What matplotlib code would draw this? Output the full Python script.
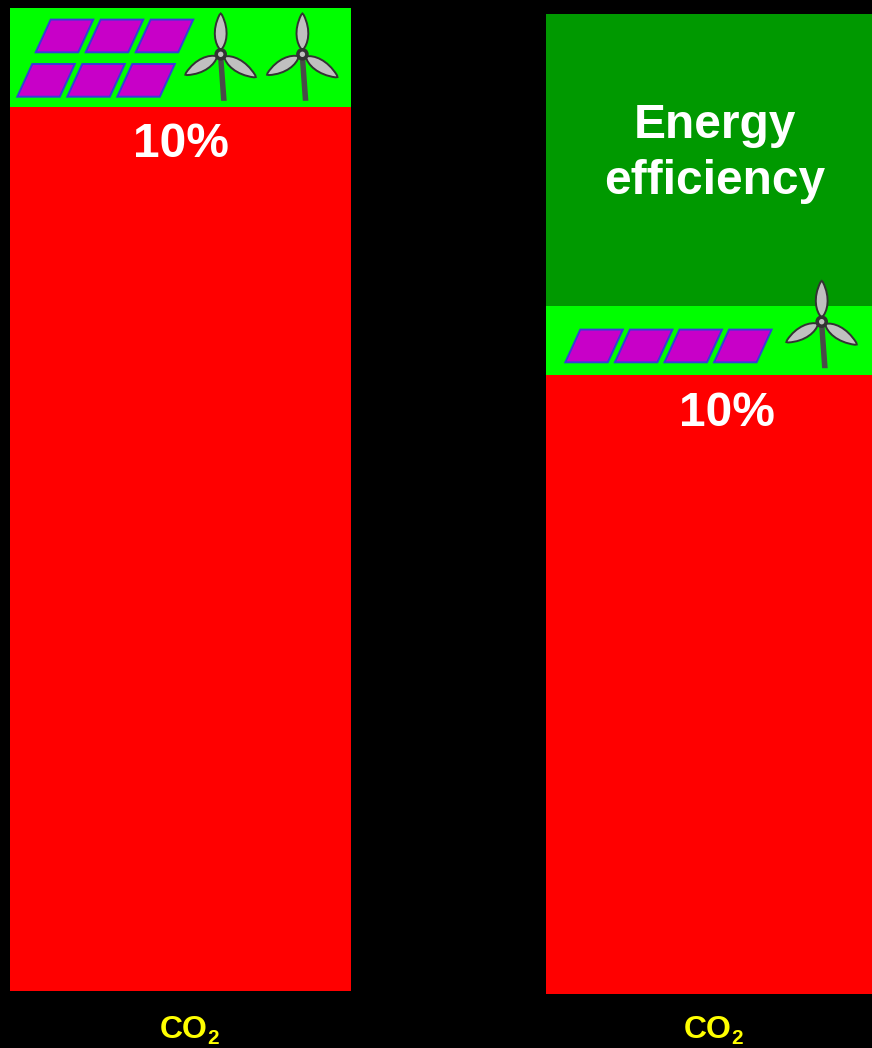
import matplotlib
matplotlib.use("Agg")
import matplotlib.pyplot as plt
import numpy as np
from matplotlib.patches import Circle, PathPatch, Polygon
from matplotlib.path import Path

# stacked shares, percent
before_labels = ["Fossil", "Renewables"]
before_values = [90, 10]
before_colors = ["#ff0000", "#00ff00"]

after_labels = ["Fossil", "Renewables", "Energy efficiency"]
after_values = [63, 7, 29.7]
after_colors = ["#ff0000", "#00ff00", "#009900"]

W, H = 872, 1048

plt.rcParams["font.family"] = ["Liberation Sans", "DejaVu Sans"]
plt.rcParams["mathtext.fontset"] = "custom"
plt.rcParams["mathtext.bf"] = "Liberation Sans:bold"

fig = plt.figure(figsize=(W / 100, H / 100), dpi=100, facecolor="black")


def bar_axes(x0, x1, top, bottom):
    ax = fig.add_axes([x0 / W, 1 - bottom / H, (x1 - x0) / W, (bottom - top) / H])
    ax.axis("off")
    return ax


def stack(ax, values, colors):
    base = 0
    for v, c in zip(values, colors):
        ax.bar(0, v, width=1, bottom=base, color=c, linewidth=0)
        base += v
    ax.set_xlim(-0.5, 0.5)
    ax.set_ylim(0, base)


stack(bar_axes(10, 351, 8.4, 991), before_values, before_colors)
stack(bar_axes(546, 872, 14, 994), after_values, after_colors)

# overlay in pixel coordinates for the icons and text
ov = fig.add_axes([0, 0, 1, 1], facecolor="none")
ov.set_xlim(0, W)
ov.set_ylim(H, 0)
ov.axis("off")


def panel(ax, x, y):
    # x, y is the lower left corner
    pts = [(x, y), (x + 15, y - 32.7), (x + 57.5, y - 32.7), (x + 42.5, y)]
    ax.add_patch(Polygon(pts, closed=True, facecolor="#c800c8", edgecolor="#3a3ad8",
                         linewidth=1.4, joinstyle="miter"))


def blade(ax, hx, hy, angle, length):
    # outline of a blade pointing up, then turned around the hub
    pts = np.array([
        [0, -4], [-6, -10], [-9, -24], [-1.2, -length + 0.5],
        [0, -length - 0.8], [1.2, -length + 0.5],
        [9, -24], [6, -10], [0, -4], [0, -4],
    ], dtype=float)
    a = np.radians(angle)
    rot = np.array([[np.cos(a), -np.sin(a)], [np.sin(a), np.cos(a)]])
    pts = pts @ rot.T + [hx, hy]
    codes = [Path.MOVETO, Path.CURVE4, Path.CURVE4, Path.CURVE4,
             Path.LINETO, Path.LINETO,
             Path.CURVE4, Path.CURVE4, Path.CURVE4, Path.CLOSEPOLY]
    ax.add_patch(PathPatch(Path(pts, codes), facecolor="#c0c0c0", edgecolor="#333333",
                           linewidth=1.4, zorder=3))


def turbine(ax, hx, hy):
    tower = [(hx - 2.6, hy + 4), (hx + 2.8, hy + 4), (hx + 6, hy + 46.5), (hx + 0.4, hy + 46.5)]
    ax.add_patch(Polygon(tower, closed=True, facecolor="#4a4a4a", edgecolor="none", zorder=2))
    blade(ax, hx, hy, 0, 40)
    blade(ax, hx, hy, -120, 40)
    blade(ax, hx, hy, 123, 41)
    ax.add_patch(Circle((hx, hy), 6.3, facecolor="#333333", edgecolor="none", zorder=4))
    ax.add_patch(Circle((hx, hy), 2.7, facecolor="#c0c0c0", edgecolor="none", zorder=5))


for i in range(3):
    panel(ov, 35.7 + 50 * i, 52.3)
    panel(ov, 17.3 + 50 * i, 96.7)
for i in range(4):
    panel(ov, 565.3 + 49.6 * i, 362.3)

turbine(ov, 220.7, 54.3)
turbine(ov, 302.4, 54.3)
turbine(ov, 821.7, 321.7)

big = dict(color="white", fontsize=34.5, fontweight="bold", ha="center", va="baseline")
ov.text(180.5, 157, "10%", **big)
ov.text(726.5, 426, "10%", **big)
ov.text(715, 138, "Energy", **big)
ov.text(714.5, 194, "efficiency", **big)

# CO2 label, subscript as its own text so it can drop below the baseline
for x in (160, 684):
    ov.text(x, 1038, "CO", color="#ffff00", fontsize=23, fontweight="bold", ha="left", va="baseline")
    ov.text(x + 47, 1044, r"$\mathbf{2}$", color="#ffff00", fontsize=15, ha="left", va="baseline")

fig.savefig("out.png", dpi=100, facecolor="black")
